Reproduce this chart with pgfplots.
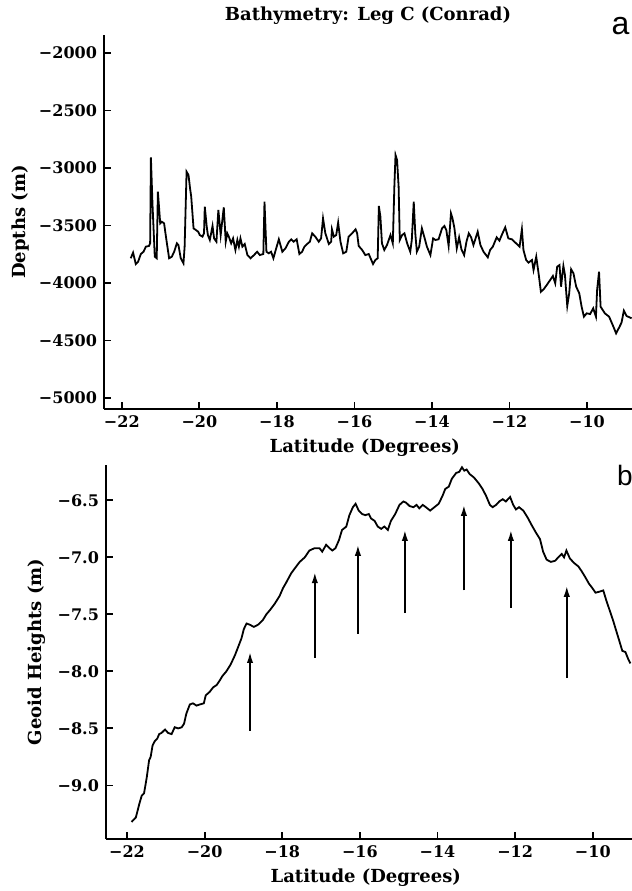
\documentclass[border=0pt]{standalone}
\usepackage{pgfplots}
\pgfplotsset{compat=1.18}
\usepackage{fontspec}
\setmainfont{DejaVu Serif}
\newfontfamily\sansf{Liberation Sans}
\usetikzlibrary{arrows.meta}

\pgfplotsset{
  panel/.style={
    scale only axis,
    clip mode=individual,
    axis x line*=bottom, axis y line*=left,
    axis line style={line width=1.2pt},
    tick align=inside,
    major tick length=3.5pt,
    tick style={line width=0.9pt, black},
    tick label style={font=\bfseries\fontsize{8}{9}\selectfont},
    label style={font=\bfseries\fontsize{9}{10}\selectfont},
    xtick={-22,-20,-18,-16,-14,-12,-10},
    xticklabels={−22,−20,−18,−16,−14,−12,−10},
    every axis plot post/.append style={line width=0.9pt, black, mark=none},
  }
}

\begin{document}
\begin{tikzpicture}
\path[use as bounding box] (0,0) rectangle (316pt,445.5pt);

% ---------------- top panel ----------------
\begin{axis}[panel,
  at={(52pt,241pt)}, anchor=south west,
  width=264pt, height=187pt,
  xmin=-22.46, xmax=-8.84,
  ymin=-5096, ymax=-1843,
  ytick={-5000,-4500,-4000,-3500,-3000,-2500,-2000},
  yticklabels={−5000,−4500,−4000,−3500,−3000,−2500,−2000},
  xlabel={Latitude (Degrees)},
  ylabel={Depths (m)},
  xlabel style={at={(axis description cs:0.494,-0.104)}, anchor=center},
  ylabel style={at={(axis description cs:-0.159,0.5)}, anchor=center},
]
\addplot table {
-21.77 -3785
-21.71 -3736
-21.64 -3835
-21.58 -3815
-21.51 -3748
-21.44 -3728
-21.38 -3684
-21.30 -3678
-21.27 -3655
-21.25 -2907
-21.21 -3307
-21.15 -3771
-21.10 -3785
-21.07 -3205
-21.01 -3481
-20.97 -3467
-20.91 -3481
-20.85 -3626
-20.78 -3785
-20.71 -3771
-20.65 -3728
-20.58 -3655
-20.54 -3670
-20.48 -3785
-20.41 -3829
-20.38 -3684
-20.33 -3032
-20.28 -3061
-20.24 -3177
-20.21 -3249
-20.15 -3525
-20.09 -3539
-20.03 -3554
-19.99 -3583
-19.92 -3597
-19.88 -3568
-19.86 -3336
-19.81 -3510
-19.78 -3583
-19.73 -3626
-19.66 -3504
-19.62 -3612
-19.56 -3641
-19.51 -3365
-19.45 -3583
-19.37 -3342
-19.32 -3641
-19.28 -3568
-19.24 -3597
-19.18 -3655
-19.13 -3612
-19.07 -3713
-19.02 -3626
-18.98 -3684
-18.94 -3612
-18.89 -3684
-18.83 -3661
-18.76 -3757
-18.68 -3785
-18.59 -3757
-18.51 -3728
-18.44 -3757
-18.35 -3748
-18.32 -3293
-18.27 -3728
-18.21 -3742
-18.15 -3728
-18.09 -3785
-18.03 -3713
-17.95 -3620
-17.86 -3728
-17.78 -3699
-17.69 -3641
-17.63 -3620
-17.57 -3641
-17.49 -3620
-17.42 -3748
-17.35 -3728
-17.29 -3684
-17.22 -3661
-17.15 -3641
-17.09 -3568
-17.01 -3597
-16.92 -3641
-16.86 -3612
-16.81 -3438
-16.75 -3568
-16.66 -3661
-16.60 -3641
-16.58 -3533
-16.53 -3597
-16.47 -3583
-16.42 -3475
-16.36 -3641
-16.29 -3742
-16.21 -3728
-16.15 -3597
-16.06 -3568
-15.97 -3533
-15.93 -3568
-15.89 -3678
-15.80 -3713
-15.72 -3757
-15.63 -3748
-15.52 -3835
-15.46 -3800
-15.40 -3785
-15.37 -3330
-15.33 -3423
-15.29 -3655
-15.23 -3713
-15.16 -3670
-15.07 -3583
-15.01 -3655
-14.97 -3162
-14.94 -2887
-14.90 -2930
-14.86 -3162
-14.83 -3626
-14.77 -3583
-14.71 -3568
-14.64 -3655
-14.56 -3728
-14.52 -3626
-14.47 -3293
-14.43 -3568
-14.39 -3728
-14.33 -3684
-14.26 -3525
-14.20 -3597
-14.13 -3684
-14.04 -3757
-13.97 -3612
-13.91 -3626
-13.83 -3620
-13.74 -3525
-13.68 -3504
-13.63 -3539
-13.57 -3678
-13.51 -3394
-13.47 -3438
-13.42 -3525
-13.36 -3699
-13.30 -3603
-13.24 -3707
-13.17 -3757
-13.11 -3641
-13.05 -3568
-12.99 -3603
-12.93 -3670
-12.82 -3554
-12.75 -3670
-12.67 -3728
-12.56 -3777
-12.50 -3713
-12.43 -3684
-12.33 -3603
-12.26 -3632
-12.20 -3583
-12.11 -3516
-12.03 -3612
-11.94 -3620
-11.83 -3655
-11.74 -3684
-11.68 -3533
-11.64 -3713
-11.57 -3800
-11.51 -3823
-11.42 -3800
-11.38 -3887
-11.31 -3771
-11.25 -3916
-11.19 -4076
-11.12 -4055
-11.04 -4018
-10.95 -3974
-10.88 -3939
-10.82 -4003
-10.77 -3858
-10.71 -3844
-10.67 -4032
-10.61 -3852
-10.57 -3930
-10.51 -4200
-10.46 -4090
-10.41 -3881
-10.35 -3916
-10.28 -4032
-10.20 -4090
-10.14 -4206
-10.08 -4293
-10.01 -4264
-9.92 -4270
-9.84 -4220
-9.77 -4293
-9.74 -4061
-9.69 -3901
-9.65 -4206
-9.54 -4264
-9.43 -4293
-9.32 -4380
-9.25 -4438
-9.17 -4386
-9.11 -4345
-9.05 -4241
-8.98 -4287
-8.85 -4307
};
\node[font=\bfseries\fontsize{9}{10}\selectfont] at (axis description cs:0.5,1.053) {Bathymetry: Leg C (Conrad)};
\node[font=\sansf\fontsize{16}{16}\selectfont, anchor=east, inner sep=0.5pt] at (axis description cs:0.998,1.025) {a};
\end{axis}

% ---------------- bottom panel ----------------
\begin{axis}[panel,
  at={(53pt,26pt)}, anchor=south west,
  width=263pt, height=187pt,
  xmin=-22.54, xmax=-8.99,
  ymin=-9.47, ymax=-6.19,
  ytick={-9.0,-8.5,-8.0,-7.5,-7.0,-6.5},
  yticklabels={−9.0,−8.5,−8.0,−7.5,−7.0,−6.5},
  xlabel={Latitude (Degrees)},
  ylabel={Geoid Heights (m)},
  xlabel style={at={(axis description cs:0.494,-0.104)}, anchor=center},
  ylabel style={at={(axis description cs:-0.131,0.5)}, anchor=center},
]
\addplot table {
-21.88 -9.32
-21.77 -9.28
-21.68 -9.16
-21.62 -9.09
-21.56 -9.07
-21.49 -8.93
-21.43 -8.78
-21.39 -8.75
-21.34 -8.65
-21.28 -8.61
-21.22 -8.59
-21.17 -8.55
-21.11 -8.54
-21.02 -8.51
-20.94 -8.54
-20.85 -8.55
-20.77 -8.49
-20.68 -8.50
-20.59 -8.49
-20.53 -8.46
-20.47 -8.37
-20.38 -8.29
-20.30 -8.28
-20.21 -8.30
-20.12 -8.29
-20.02 -8.28
-19.97 -8.21
-19.87 -8.18
-19.78 -8.14
-19.69 -8.12
-19.61 -8.08
-19.54 -8.04
-19.44 -8.00
-19.33 -7.94
-19.22 -7.86
-19.14 -7.79
-19.05 -7.71
-18.99 -7.63
-18.92 -7.58
-18.84 -7.59
-18.73 -7.61
-18.62 -7.59
-18.50 -7.55
-18.41 -7.50
-18.31 -7.46
-18.20 -7.41
-18.07 -7.34
-17.98 -7.27
-17.88 -7.21
-17.77 -7.14
-17.64 -7.08
-17.55 -7.04
-17.42 -7.00
-17.30 -6.94
-17.17 -6.92
-17.04 -6.92
-16.97 -6.95
-16.87 -6.89
-16.78 -6.92
-16.71 -6.94
-16.63 -6.92
-16.54 -6.85
-16.46 -6.76
-16.35 -6.73
-16.27 -6.63
-16.18 -6.56
-16.11 -6.53
-16.03 -6.59
-15.94 -6.62
-15.86 -6.63
-15.77 -6.62
-15.71 -6.66
-15.62 -6.68
-15.54 -6.73
-15.45 -6.75
-15.37 -6.73
-15.28 -6.76
-15.20 -6.68
-15.09 -6.62
-14.98 -6.54
-14.88 -6.51
-14.81 -6.52
-14.72 -6.55
-14.62 -6.56
-14.54 -6.54
-14.47 -6.57
-14.38 -6.54
-14.30 -6.56
-14.19 -6.59
-14.08 -6.56
-13.97 -6.53
-13.87 -6.46
-13.80 -6.40
-13.71 -6.38
-13.63 -6.31
-13.52 -6.26
-13.44 -6.25
-13.37 -6.21
-13.31 -6.24
-13.25 -6.23
-13.17 -6.27
-13.06 -6.30
-12.94 -6.35
-12.84 -6.40
-12.75 -6.46
-12.65 -6.54
-12.58 -6.56
-12.49 -6.54
-12.41 -6.51
-12.32 -6.49
-12.24 -6.51
-12.13 -6.47
-12.05 -6.54
-11.98 -6.58
-11.90 -6.56
-11.79 -6.59
-11.68 -6.65
-11.57 -6.72
-11.47 -6.78
-11.36 -6.84
-11.28 -6.95
-11.19 -7.02
-11.08 -7.04
-10.97 -7.03
-10.89 -7.00
-10.80 -6.97
-10.74 -7.00
-10.68 -6.94
-10.59 -7.01
-10.48 -7.05
-10.37 -7.08
-10.29 -7.12
-10.20 -7.17
-10.10 -7.23
-10.01 -7.27
-9.93 -7.31
-9.82 -7.30
-9.73 -7.29
-9.65 -7.38
-9.57 -7.46
-9.48 -7.55
-9.40 -7.64
-9.31 -7.74
-9.24 -7.82
-9.16 -7.83
-9.09 -7.89
-9.03 -7.93
};
% arrows
\pgfplotsset{arr/.style={line width=0.75pt, -{Latex[length=5.5pt,width=3.2pt]}}}
\addplot[arr] coordinates {(-18.83,-8.52) (-18.83,-7.83)};
\addplot[arr] coordinates {(-17.16,-7.88) (-17.16,-7.13)};
\addplot[arr] coordinates {(-16.05,-7.67) (-16.05,-6.89)};
\addplot[arr] coordinates {(-14.84,-7.49) (-14.84,-6.76)};
\addplot[arr] coordinates {(-13.32,-7.29) (-13.32,-6.54)};
\addplot[arr] coordinates {(-12.11,-7.44) (-12.11,-6.76)};
\addplot[arr] coordinates {(-10.67,-8.06) (-10.67,-7.25)};
\node[font=\sansf\fontsize{14}{14}\selectfont, anchor=west, inner sep=0pt] at (axis description cs:0.971,0.973) {b};
\end{axis}
\end{tikzpicture}
\end{document}
